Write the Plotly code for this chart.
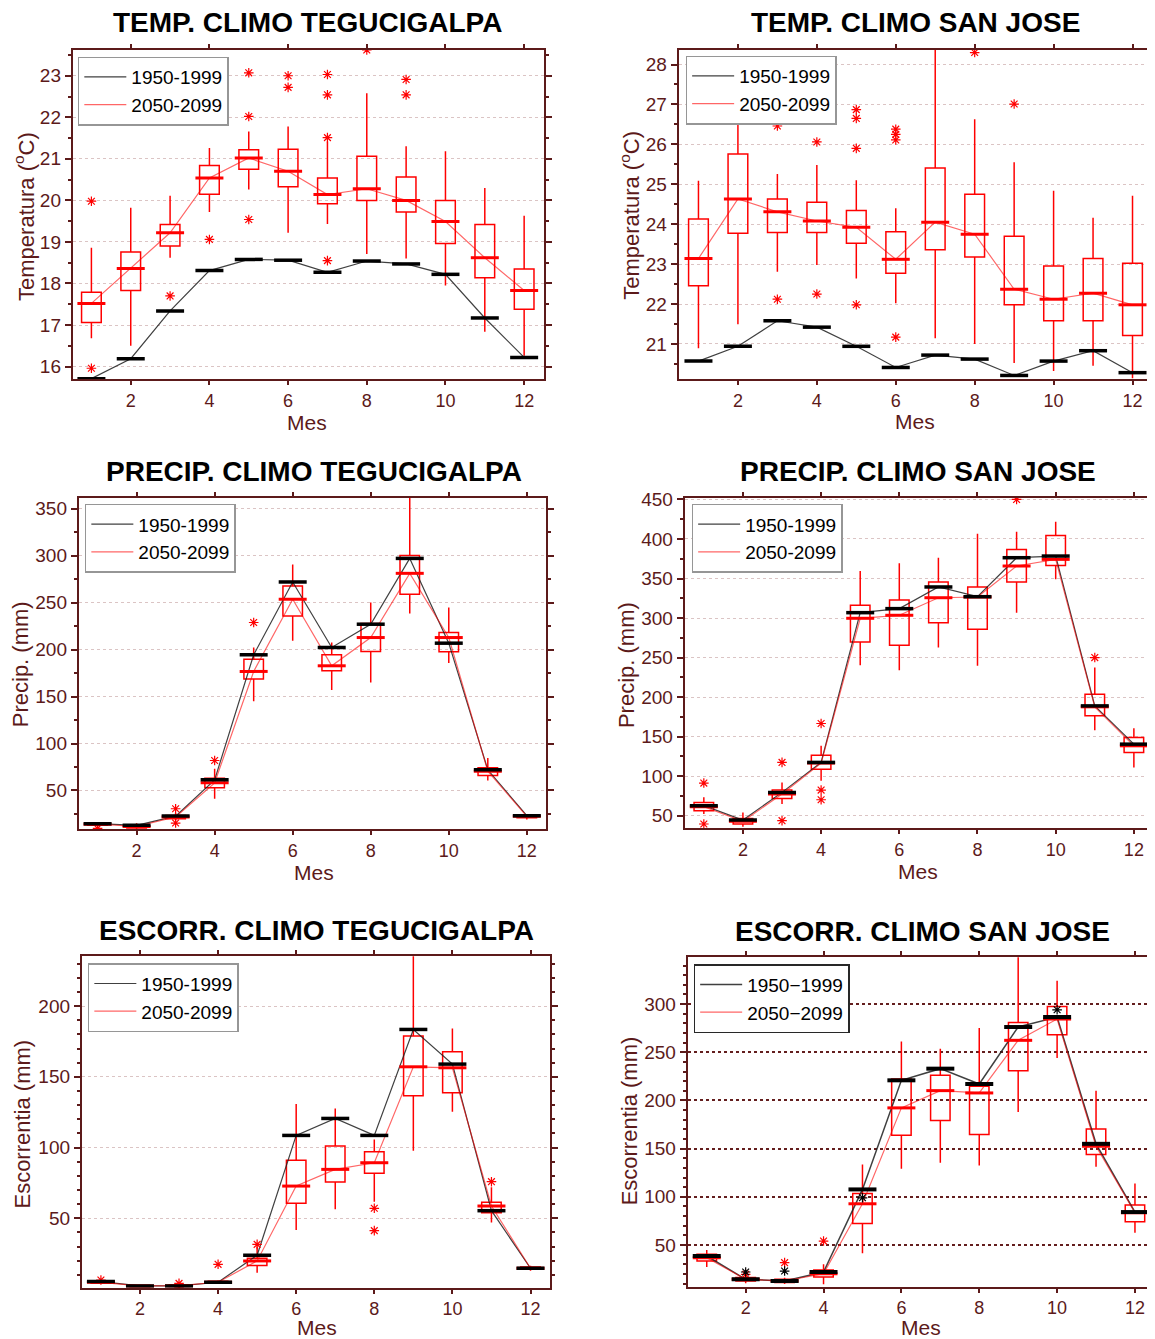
import plotly.graph_objects as go

MONTHS = list(range(1, 13))

# ---------------- Temperatura Tegucigalpa ----------------
t_teg_hist = [15.71, 16.19, 17.34, 18.31, 18.58, 18.56, 18.27, 18.54, 18.47, 18.22, 17.17, 16.22]
t_teg_med = [17.52, 18.36, 19.22, 20.54, 21.02, 20.70, 20.14, 20.28, 20.00, 19.49, 18.62, 17.83]
t_teg_q1 = [17.06, 17.83, 18.90, 20.15, 20.75, 20.33, 19.92, 20.00, 19.72, 18.96, 18.14, 17.38]
t_teg_q3 = [17.79, 18.76, 19.42, 20.84, 21.22, 21.23, 20.54, 21.06, 20.56, 20.00, 19.42, 18.35]
t_teg_lo = [16.68, 16.50, 18.62, 19.72, 20.26, 19.22, 19.43, 18.71, 18.60, 17.95, 16.84, 16.26]
t_teg_hi = [18.86, 19.82, 20.11, 21.26, 21.66, 21.78, 21.42, 22.58, 21.30, 21.18, 20.30, 19.63]
t_teg_out_x = [1, 1, 3, 4, 5, 5, 5, 6, 6, 7, 7, 7, 7, 8, 9, 9]
t_teg_out_y = [19.98, 15.96, 17.70, 19.06, 23.07, 22.02, 19.54, 23.00, 22.72, 23.03, 22.54, 21.51, 18.55, 23.62, 22.91, 22.54]

# ---------------- Temperatura San Jose ----------------
t_sj_hist = [20.57, 20.94, 21.58, 21.42, 20.94, 20.41, 20.72, 20.62, 20.21, 20.57, 20.83, 20.28]
t_sj_med = [23.14, 24.63, 24.31, 24.08, 23.92, 23.12, 24.05, 23.75, 22.37, 22.12, 22.27, 21.98]
t_sj_q1 = [22.46, 23.77, 23.79, 23.79, 23.52, 22.77, 23.36, 23.18, 21.98, 21.58, 21.58, 21.21]
t_sj_q3 = [24.13, 25.76, 24.63, 24.55, 24.34, 23.81, 25.41, 24.75, 23.70, 22.95, 23.14, 23.02]
t_sj_lo = [20.89, 21.49, 22.81, 22.98, 22.64, 22.02, 21.14, 21.00, 20.52, 20.32, 20.45, 20.14]
t_sj_hi = [25.09, 28.20, 25.26, 25.48, 25.10, 24.40, 28.60, 26.63, 25.55, 24.84, 24.16, 24.71]
t_sj_out_x = [1, 3, 3, 4, 4, 5, 5, 5, 5, 6, 6, 6, 6, 8, 9]
t_sj_out_y = [26.86, 26.46, 22.12, 26.06, 22.25, 26.87, 26.65, 25.90, 21.98, 26.38, 26.25, 26.11, 21.17, 28.30, 27.01]

# ---------------- Precipitacion Tegucigalpa ----------------
p_teg_hist = [14.6, 12.8, 22.7, 61.3, 194.5, 272.1, 202.3, 227.1, 297.2, 206.9, 72.0, 23.1]
p_teg_med = [14.0, 11.7, 21.7, 58.1, 176.8, 253.7, 182.8, 212.9, 281.3, 212.9, 70.5, 22.4]
p_teg_q1 = [12.8, 10.0, 19.9, 52.8, 168.7, 235.9, 177.5, 198.1, 259.0, 197.7, 66.0, 20.9]
p_teg_q3 = [15.5, 13.2, 23.4, 63.1, 189.9, 267.8, 194.5, 227.8, 300.4, 218.2, 74.1, 23.8]
p_teg_lo = [11.0, 8.5, 18.0, 41.1, 144.9, 209.4, 157.0, 165.1, 238.4, 185.7, 60.6, 19.0]
p_teg_hi = [16.0, 15.0, 26.0, 73.0, 202.3, 290.8, 207.6, 250.1, 370.0, 244.8, 84.7, 25.0]
p_teg_out_x = [1, 3, 3, 4, 5]
p_teg_out_y = [9.5, 30.5, 15.3, 81.9, 228.9]

# ---------------- Precipitacion San Jose ----------------
p_sj_hist = [62.7, 44.5, 79.5, 117.4, 306.8, 311.9, 339.3, 327.0, 376.3, 378.4, 188.9, 140.5]
p_sj_med = [61.4, 42.9, 77.4, 116.5, 299.7, 303.5, 325.7, 326.6, 365.8, 374.2, 187.7, 138.4]
p_sj_q1 = [56.3, 39.5, 71.9, 108.9, 269.8, 265.6, 294.2, 285.9, 345.6, 366.6, 176.3, 130.0]
p_sj_q3 = [66.8, 46.6, 82.4, 126.6, 316.1, 322.9, 345.6, 339.3, 386.8, 404.5, 203.7, 148.9]
p_sj_lo = [52.1, 36.0, 64.7, 94.2, 240.3, 234.0, 262.6, 239.5, 306.8, 349.0, 158.2, 111.0]
p_sj_hi = [73.2, 54.2, 92.1, 138.4, 359.5, 369.2, 376.3, 406.6, 409.2, 421.8, 237.4, 160.7]
p_sj_out_x = [1, 1, 3, 3, 4, 4, 4, 9, 11]
p_sj_out_y = [91.3, 39.5, 117.4, 43.7, 166.6, 82.4, 70.2, 450.0, 250.0]

# ---------------- Escorrentia Tegucigalpa ----------------
e_teg_hist = [5.3, 2.2, 2.2, 4.8, 23.9, 108.6, 120.6, 108.6, 183.5, 159.0, 55.4, 14.7]
e_teg_med = [4.8, 2.2, 2.4, 4.8, 19.9, 72.8, 84.6, 89.3, 157.1, 156.4, 58.7, 14.7]
e_teg_q1 = [4.1, 1.7, 1.8, 4.1, 16.6, 60.6, 75.7, 81.8, 136.7, 138.8, 54.0, 14.0]
e_teg_q3 = [5.7, 2.7, 3.0, 5.5, 21.7, 91.0, 101.1, 97.1, 178.8, 167.7, 61.3, 15.6]
e_teg_lo = [3.5, 1.3, 1.3, 3.5, 11.6, 41.8, 56.4, 61.8, 97.8, 125.4, 47.0, 13.0]
e_teg_hi = [6.5, 3.3, 3.5, 6.3, 30.0, 130.8, 127.7, 105.8, 240.0, 184.2, 71.9, 16.5]
e_teg_out_x = [1, 3, 3, 4, 5, 8, 8, 11]
e_teg_out_y = [6.4, 4.0, 1.3, 17.5, 31.6, 57.1, 41.3, 75.9]

# ---------------- Escorrentia San Jose ----------------
e_sj_hist = [38.6, 14.4, 12.7, 22.0, 107.7, 220.9, 233.0, 217.1, 276.2, 286.5, 155.0, 84.2]
e_sj_med = [36.9, 14.4, 12.7, 20.3, 92.8, 192.3, 210.2, 207.8, 262.4, 284.5, 152.5, 83.5]
e_sj_q1 = [33.4, 12.7, 11.0, 16.9, 72.4, 164.0, 179.1, 164.6, 230.9, 268.2, 143.9, 74.2]
e_sj_q3 = [40.3, 16.2, 14.4, 24.1, 103.5, 222.3, 226.1, 214.7, 281.0, 297.6, 170.5, 91.4]
e_sj_lo = [27.2, 10.3, 9.5, 9.3, 41.4, 129.1, 135.3, 132.5, 188.1, 244.1, 131.1, 62.8]
e_sj_hi = [44.8, 19.6, 16.0, 30.0, 133.6, 261.3, 253.7, 275.1, 355.0, 324.2, 210.2, 113.9]
e_sj_out_x = [2, 3, 4]
e_sj_out_y = [19.6, 31.7, 54.1]
e_sj_hist_out_x = [2, 3, 5, 10]
e_sj_hist_out_y = [22.0, 23.0, 99.0, 294.1]

LEG_A = ["1950-1999", "2050-2099"]
LEG_B = ["1950\u22121999", "2050\u22122099"]

FONT = "Liberation Sans, Arial, sans-serif"
MAROON = "rgb(92,26,26)"
W, H = 1155, 1339

# screen-pixel -> paper conversion (compensates the page offset seen in the render)
OX, SX = 8.4, 0.997
OY, SY = 15.4, 0.9948


def fx(p):
    return ((p - OX) / SX) / W


def fy(p):
    return 1 - ((p - OY) / SY) / H


PANELS = [
    dict(title="TEMP. CLIMO TEGUCIGALPA", ylabel="Temperatura (<sup>o</sup>C)",
         hist=t_teg_hist, med=t_teg_med, q1=t_teg_q1, q3=t_teg_q3, lo=t_teg_lo, hi=t_teg_hi,
         ox=t_teg_out_x, oy=t_teg_out_y, hox=[], hoy=[],
         frame=(73, 543, 48, 378), xr=[0.527, 12.51], yr=[15.70, 23.63], dtick=1, minor=0.5,
         leg=(78, 55), tpos=(307, 21), ypos=(25, 215), xpos=(307, 422), legtext=LEG_A, dark=False),
    dict(title="TEMP. CLIMO SAN JOSE", ylabel="Temperatura (<sup>o</sup>C)",
         hist=t_sj_hist, med=t_sj_med, q1=t_sj_q1, q3=t_sj_q3, lo=t_sj_lo, hi=t_sj_hi,
         ox=t_sj_out_x, oy=t_sj_out_y, hox=[], hoy=[],
         frame=(677, 1150, 48, 378), xr=[0.497, 12.52], yr=[20.12, 28.375], dtick=1, minor=0.5,
         leg=(684, 54), tpos=(913, 21), ypos=(629, 214), xpos=(913, 421), legtext=LEG_A, dark=False),
    dict(title="PRECIP. CLIMO TEGUCIGALPA", ylabel="Precip. (mm)",
         hist=p_teg_hist, med=p_teg_med, q1=p_teg_q1, q3=p_teg_q3, lo=p_teg_lo, hi=p_teg_hi,
         ox=p_teg_out_x, oy=p_teg_out_y, hox=[], hoy=[],
         frame=(79, 545, 497, 829), xr=[0.519, 12.497], yr=[8.56, 361.7], dtick=50, minor=25,
         leg=(85, 503), tpos=(313, 471), ypos=(21, 664), xpos=(313, 872), legtext=LEG_A, dark=False),
    dict(title="PRECIP. CLIMO SAN JOSE", ylabel="Precip. (mm)",
         hist=p_sj_hist, med=p_sj_med, q1=p_sj_q1, q3=p_sj_q3, lo=p_sj_lo, hi=p_sj_hi,
         ox=p_sj_out_x, oy=p_sj_out_y, hox=[], hoy=[],
         frame=(683, 1150, 497, 828), xr=[0.509, 12.49], yr=[34, 452], dtick=50, minor=25,
         leg=(690, 503), tpos=(916, 471), ypos=(625, 664), xpos=(916, 871), legtext=LEG_A, dark=False),
    dict(title="ESCORR. CLIMO TEGUCIGALPA", ylabel="Escorrentia (mm)",
         hist=e_teg_hist, med=e_teg_med, q1=e_teg_q1, q3=e_teg_q3, lo=e_teg_lo, hi=e_teg_hi,
         ox=e_teg_out_x, oy=e_teg_out_y, hox=[], hoy=[],
         frame=(82, 549, 956, 1288), xr=[0.511, 12.505], yr=[1.0, 235.3], dtick=50, minor=10,
         leg=(88, 963), tpos=(316, 930), ypos=(23, 1124), xpos=(316, 1328), legtext=LEG_A, dark=False),
    dict(title="ESCORR. CLIMO SAN JOSE", ylabel="Escorrentia (mm)",
         hist=e_sj_hist, med=e_sj_med, q1=e_sj_q1, q3=e_sj_q3, lo=e_sj_lo, hi=e_sj_hi,
         ox=e_sj_out_x, oy=e_sj_out_y, hox=e_sj_hist_out_x, hoy=e_sj_hist_out_y,
         frame=(686, 1151, 957, 1287), xr=[0.509, 12.49], yr=[6.8, 348.7], dtick=50, minor=10,
         leg=(692, 964), tpos=(920, 931), ypos=(628, 1121), xpos=(919, 1328), legtext=LEG_B, dark=True),
]

fig = go.Figure()
annotations = []
layout = dict(width=W, height=H, margin=dict(l=0, r=0, t=0, b=0), autosize=False,
              paper_bgcolor="white", plot_bgcolor="white", showlegend=True, boxmode="overlay",
              font=dict(family=FONT, color=MAROON))

for i, p in enumerate(PANELS, start=1):
    xa = "x" if i == 1 else f"x{i}"
    ya = "y" if i == 1 else f"y{i}"
    xkey = "xaxis" if i == 1 else f"xaxis{i}"
    ykey = "yaxis" if i == 1 else f"yaxis{i}"
    lkey = "legend" if i == 1 else f"legend{i}"
    l, r, t, b = p["frame"]
    dark = p["dark"]

    # connecting lines (legend entries)
    fig.add_trace(go.Scatter(x=MONTHS, y=p["hist"], mode="lines", name=p["legtext"][0],
                             line=dict(color="rgba(30,30,30,0.85)", width=1.5 if dark else 1.2),
                             xaxis=xa, yaxis=ya, legend=lkey, hoverinfo="skip"))
    fig.add_trace(go.Scatter(x=MONTHS, y=p["med"], mode="lines", name=p["legtext"][1],
                             line=dict(color="rgba(255,0,0,0.6)", width=1.2),
                             xaxis=xa, yaxis=ya, legend=lkey, hoverinfo="skip"))
    # boxes 2050-2099
    fig.add_trace(go.Box(x=MONTHS, q1=p["q1"], median=p["med"], q3=p["q3"],
                         lowerfence=p["lo"], upperfence=p["hi"], orientation="v",
                         width=0.5, whiskerwidth=0, boxpoints=False,
                         line=dict(color="red", width=1.5), fillcolor="rgba(0,0,0,0)",
                         xaxis=xa, yaxis=ya, showlegend=False, hoverinfo="skip"))
    # thick medians
    fig.add_trace(go.Scatter(x=MONTHS, y=p["med"], mode="markers",
                             marker=dict(symbol="line-ew", size=20, line=dict(color="red", width=3)),
                             xaxis=xa, yaxis=ya, showlegend=False, hoverinfo="skip"))
    # outliers
    fig.add_trace(go.Scatter(x=p["ox"], y=p["oy"], mode="markers",
                             marker=dict(symbol="asterisk-open", size=8, color="red",
                                         line=dict(color="red", width=1.2)),
                             xaxis=xa, yaxis=ya, showlegend=False, hoverinfo="skip"))
    # historical bars 1950-1999
    fig.add_trace(go.Scatter(x=MONTHS, y=p["hist"], mode="markers",
                             marker=dict(symbol="line-ew", size=20,
                                         line=dict(color="black", width=4 if dark else 3.5)),
                             xaxis=xa, yaxis=ya, showlegend=False, hoverinfo="skip"))
    if p["hox"]:
        fig.add_trace(go.Scatter(x=p["hox"], y=p["hoy"], mode="markers",
                                 marker=dict(symbol="asterisk-open", size=8, color="black",
                                             line=dict(color="black", width=1.2)),
                                 xaxis=xa, yaxis=ya, showlegend=False, hoverinfo="skip"))

    layout[xkey] = dict(domain=[fx(l), fx(r)], anchor=ya, range=p["xr"], tick0=0, dtick=2,
                        showgrid=False, zeroline=False, showline=True, linecolor=MAROON,
                        linewidth=2, mirror="ticks", ticks="outside", ticklen=4, tickwidth=2,
                        tickcolor=MAROON, tickfont=dict(size=18, color=MAROON, family=FONT))
    layout[ykey] = dict(domain=[fy(b), fy(t)], anchor=xa, range=p["yr"], dtick=p["dtick"],
                        showgrid=True,
                        gridcolor="rgb(100,30,30)" if dark else "rgba(175,125,125,0.45)",
                        griddash="dot", gridwidth=2 if dark else 1,
                        zeroline=False, showline=True, linecolor=MAROON, linewidth=2,
                        mirror="ticks", ticks="outside", ticklen=6, tickwidth=2,
                        tickcolor=MAROON, tickfont=dict(size=19, color=MAROON, family=FONT),
                        minor=dict(dtick=p["minor"], ticks="outside", ticklen=3, tickwidth=1.5,
                                   tickcolor=MAROON, showgrid=False))
    lx, ly = p["leg"]
    layout[lkey] = dict(x=fx(lx), y=fy(ly), xanchor="left", yanchor="top", bgcolor="white",
                        bordercolor="rgb(40,40,40)" if dark else "rgb(150,150,150)",
                        borderwidth=1.5, font=dict(size=19, color="black", family=FONT),
                        tracegroupgap=0, traceorder="normal", itemwidth=42)

    tx, ty = p["tpos"]
    annotations.append(dict(text="<b>" + p["title"] + "</b>", x=fx(tx), y=fy(ty), xref="paper",
                            yref="paper", showarrow=False, xanchor="center", yanchor="middle",
                            font=dict(size=28, color="black", family=FONT)))
    yx, yy = p["ypos"]
    annotations.append(dict(text=p["ylabel"], x=fx(yx), y=fy(yy), xref="paper", yref="paper",
                            showarrow=False, textangle=-90, xanchor="center", yanchor="middle",
                            font=dict(size=22, color=MAROON, family=FONT)))
    mx, my = p["xpos"]
    annotations.append(dict(text="Mes", x=fx(mx), y=fy(my), xref="paper", yref="paper",
                            showarrow=False, xanchor="center", yanchor="middle",
                            font=dict(size=21, color=MAROON, family=FONT)))

layout["annotations"] = annotations
fig.update_layout(**layout)
fig.write_html("out.html")
